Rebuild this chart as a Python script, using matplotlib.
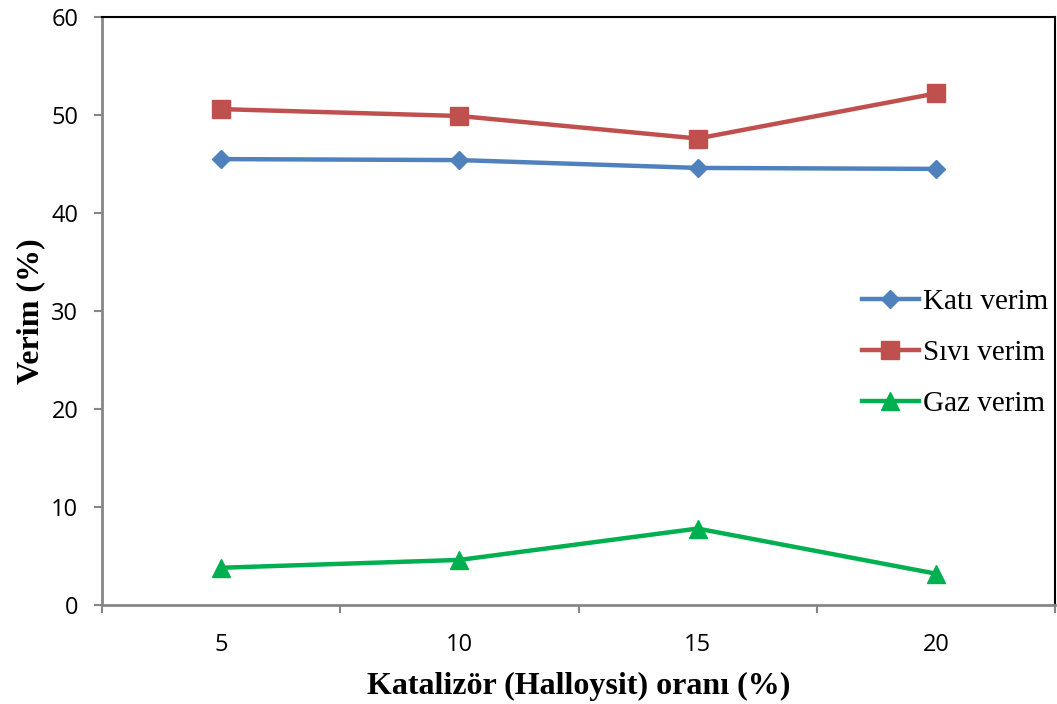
import matplotlib
matplotlib.use("Agg")
import matplotlib.pyplot as plt

categories = ["5", "10", "15", "20"]
kati = [45.5, 45.4, 44.6, 44.5]
sivi = [50.6, 49.9, 47.6, 52.2]
gaz = [3.8, 4.6, 7.8, 3.2]
yticks = [0, 10, 20, 30, 40, 50, 60]

fig = plt.figure(figsize=(10.57, 7.04), dpi=100)
ax = fig.add_axes([102/1057, 1-605/704, (1055-102)/1057, (605-17)/704])

x = list(range(len(categories)))
ax.plot(x, kati, color="#4F81BD", lw=3.2, marker="D", ms=9.5, label="Katı verim", zorder=3)
ax.plot(x, sivi, color="#C0504D", lw=3.2, marker="s", ms=13, label="Sıvı verim", zorder=3)
ax.plot(x, gaz, color="#00B050", lw=3.2, marker="^", ms=13.5, label="Gaz verim", zorder=3)

ax.set_xlim(-0.5, len(categories) - 0.5)
ax.set_ylim(0, 60)
ax.set_yticks(yticks)
ax.set_xticks(x)
ax.set_xticklabels(categories)
ax.set_xticks([i - 0.5 for i in range(len(categories) + 1)], minor=True)
ax.tick_params(axis="x", which="major", length=0, pad=20, labelsize=17)
ax.tick_params(axis="x", which="minor", length=6, width=1.5, color="#868686", direction="out")
ax.tick_params(axis="y", which="major", length=6, width=1.5, color="#868686", direction="out", pad=11, labelsize=17)
for lab in ax.get_xticklabels() + ax.get_yticklabels():
    lab.set_fontfamily("Open Sans")

for side in ["left", "bottom"]:
    ax.spines[side].set_color("#868686")
    ax.spines[side].set_linewidth(2)
for side in ["top", "right"]:
    ax.spines[side].set_color("black")
    ax.spines[side].set_linewidth(1.5)

ax.set_xlabel("Katalizör (Halloysit) oranı (%)", fontfamily="Liberation Serif",
              fontweight="bold", fontsize=23, labelpad=11)
ax.set_ylabel("Verim (%)", fontfamily="Liberation Serif", fontweight="bold",
              fontsize=23, labelpad=4)

leg = ax.legend(loc="center left", bbox_to_anchor=((862-102)/953, (605-353)/588),
                frameon=False, borderpad=0, borderaxespad=0, handlelength=1.95,
                handletextpad=0.15, labelspacing=0.85,
                prop={"family": "Liberation Serif", "size": 21})

fig.savefig("out.png", dpi=100)
